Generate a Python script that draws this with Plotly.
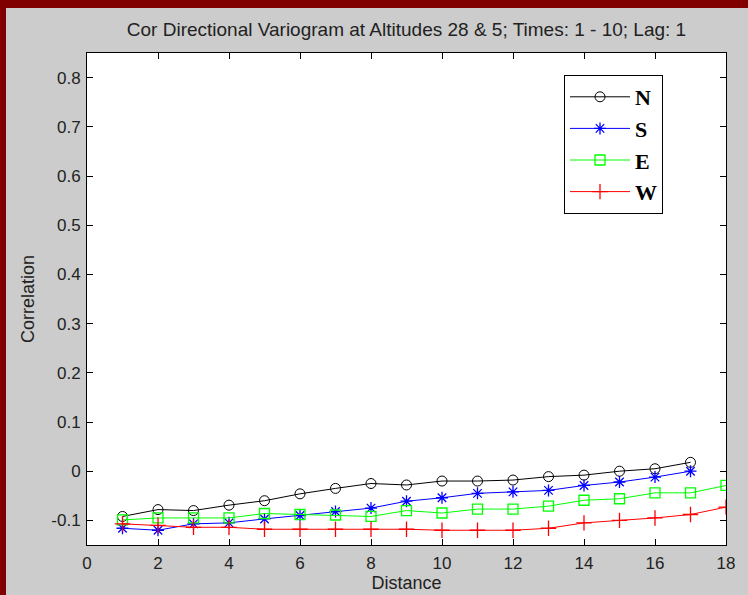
import plotly.graph_objects as go

distance_ns = list(range(1, 18))
distance_ew = list(range(1, 19))

corr_n = [-0.092, -0.078, -0.080, -0.069, -0.060, -0.046, -0.035, -0.025, -0.028,
          -0.020, -0.020, -0.018, -0.011, -0.008, 0.000, 0.005, 0.018]
corr_s = [-0.116, -0.120, -0.107, -0.105, -0.097, -0.090, -0.082, -0.075, -0.061,
          -0.054, -0.045, -0.042, -0.039, -0.029, -0.022, -0.012, 0.000]
corr_e = [-0.099, -0.095, -0.095, -0.095, -0.086, -0.088, -0.089, -0.092, -0.080,
          -0.085, -0.077, -0.077, -0.071, -0.059, -0.056, -0.044, -0.044, -0.029]
corr_w = [-0.107, -0.110, -0.114, -0.114, -0.118, -0.118, -0.118, -0.118, -0.118,
          -0.120, -0.120, -0.120, -0.116, -0.105, -0.100, -0.095, -0.088, -0.073]

x_ticks = list(range(0, 19, 2))
y_ticks = [-0.1, 0, 0.1, 0.2, 0.3, 0.4, 0.5, 0.6, 0.7, 0.8]
y_labels = ["-0.1", "0", "0.1", "0.2", "0.3", "0.4", "0.5", "0.6", "0.7", "0.8"]

fig = go.Figure()
fig.add_trace(go.Scatter(x=distance_ns, y=corr_n, mode="lines+markers", name="N",
                         line=dict(color="black", width=1),
                         marker=dict(symbol="circle-open", size=10, color="black", line=dict(width=1))))
fig.add_trace(go.Scatter(x=distance_ns, y=corr_s, mode="lines+markers", name="S",
                         line=dict(color="blue", width=1),
                         marker=dict(symbol="asterisk-open", size=10, color="blue", line=dict(width=1.3, color="blue"))))
fig.add_trace(go.Scatter(x=distance_ew, y=corr_e, mode="lines+markers", name="E",
                         line=dict(color="#00ff00", width=1),
                         marker=dict(symbol="square-open", size=10, color="#00ff00", line=dict(width=1.3))))
fig.add_trace(go.Scatter(x=distance_ew, y=corr_w, mode="lines+markers", name="W",
                         line=dict(color="red", width=1),
                         marker=dict(symbol="cross-thin-open", size=11, color="red", line=dict(width=1.3, color="red"))))

L, R, T, B = 87, 22, 53, 50
W_, H_ = 748, 595
pw, ph = W_ - L - R, H_ - T - B

def px(xp):
    return (xp - L) / pw

def py(yp):
    return 1 - (yp - T) / ph

axis_font = dict(family="Liberation Sans, Arial, sans-serif", size=18, color="#222222")

fig.update_layout(
    width=W_, height=H_,
    margin=dict(l=L, r=R, t=T, b=B, pad=0, autoexpand=False),
    paper_bgcolor="#cccccc",
    plot_bgcolor="white",
    font=dict(family="Liberation Sans, Arial, sans-serif", size=17, color="#222222"),
    title=dict(text="Cor Directional Variogram at Altitudes 28 & 5; Times: 1 - 10; Lag: 1",
               x=0.5, xanchor="center", xref="paper", y=1 - 29 / H_, yanchor="middle",
               font=dict(size=19, color="#222222")),
    xaxis=dict(range=[0, 18], tickvals=x_ticks, ticks="inside", ticklen=6, tickcolor="black",
               showline=True, linecolor="black", linewidth=1, mirror="ticks", showgrid=False,
               zeroline=False, automargin=False,
               title=dict(text="Distance", standoff=3, font=axis_font),
               tickfont=dict(size=17), ticklabelstandoff=3),
    yaxis=dict(range=[-0.15, 0.85], tickvals=y_ticks, ticktext=y_labels, ticks="inside",
               ticklen=6, tickcolor="black", showline=True, linecolor="black", linewidth=1,
               mirror="ticks", showgrid=False, zeroline=False, automargin=False,
               title=dict(text="Correlation", standoff=12, font=axis_font),
               tickfont=dict(size=17), ticklabelstandoff=2),
    legend=dict(x=px(564), y=py(75), xanchor="left", yanchor="top",
                bgcolor="white", bordercolor="black", borderwidth=1,
                font=dict(family="Liberation Serif, Times New Roman, serif", size=22, color="black"),
                itemwidth=60, tracegroupgap=0),
    showlegend=True,
    shapes=[
        dict(type="rect", xref="paper", yref="paper", x0=px(0), x1=px(6), y0=py(H_), y1=py(0),
             fillcolor="#800000", line=dict(width=0), layer="above"),
        dict(type="rect", xref="paper", yref="paper", x0=px(0), x1=px(W_), y0=py(8), y1=py(0),
             fillcolor="#800000", line=dict(width=0), layer="above"),
    ],
)
for tr in fig.data:
    tr.name = "<b>" + tr.name + "</b>"

fig.write_html("out.html")
